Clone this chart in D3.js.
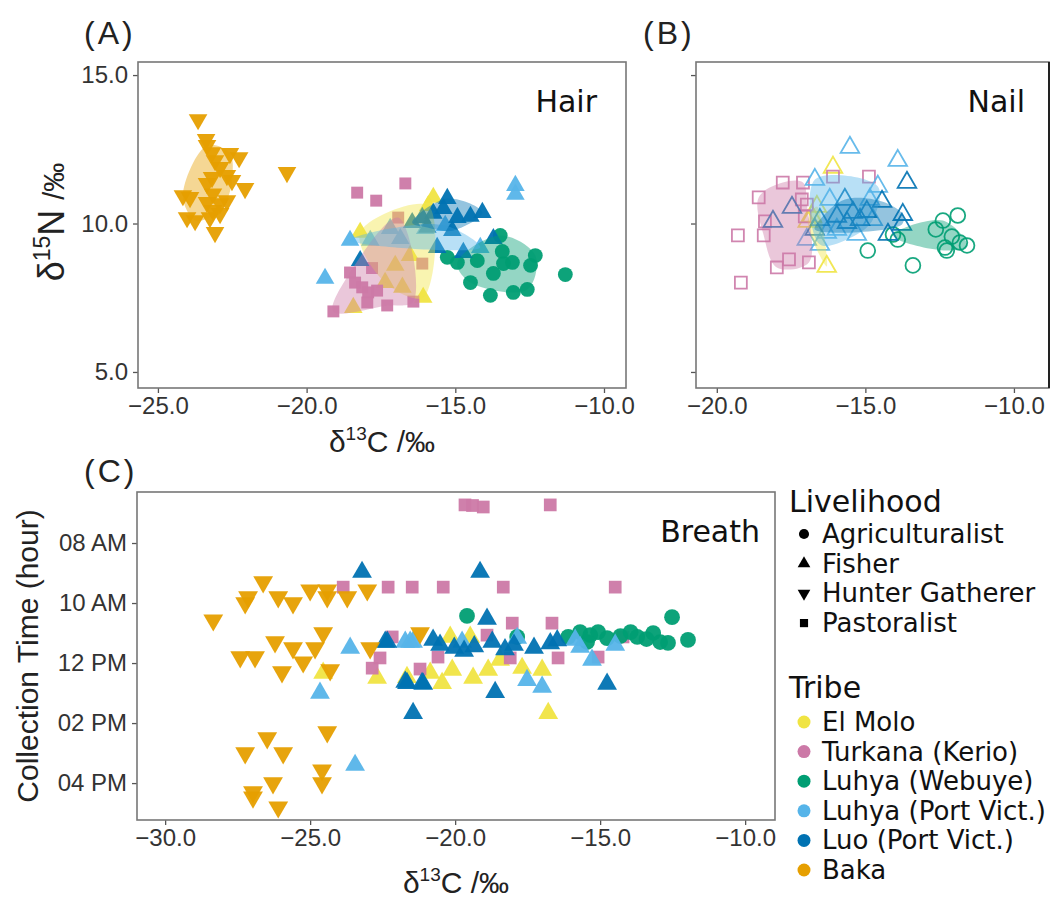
<html lang="en">
<head>
<meta charset="UTF-8">
<title>Isotope scatter</title>
<script src="https://d3js.org/d3.v7.min.js"></script>
<style>
  body { margin: 0; background: #fff; }
  .tick text { font-family: "Liberation Sans", Arial, sans-serif; font-size: 24px; fill: #333; }
  .tick line { stroke: #555; stroke-width: 1.3; }
  .frame { fill: none; stroke: #777; stroke-width: 1.6; }
  .lab { font-family: "Liberation Sans", Arial, sans-serif; fill: #222; }
  .tag { font-family: "DejaVu Sans", Verdana, sans-serif; fill: #111; }
</style>
</head>
<body>
<div id="chart"></div>
<script>
// tribes, colours and livelihood
const tribes = ["El Molo", "Turkana (Kerio)", "Luhya (Webuye)", "Luhya (Port Vict.)", "Luo (Port Vict.)", "Baka"];
const tribeColors = ["#F0E442", "#CC79A7", "#009E73", "#56B4E9", "#0072B2", "#E69F00"];
const livelihoods = ["Agriculturalist", "Fisher", "Hunter Gatherer", "Pastoralist"];
const tribeLivelihood = ["Fisher", "Pastoralist", "Agriculturalist", "Fisher", "Fisher", "Hunter Gatherer"];

// (A) hair: [d13C, d15N]
const hairElMolo = [[-15.74,10.88],[-18.2,9.7],[-16.78,7.85],[-16.08,7.51],[-18.43,7.17],[-17.02,8.59],[-16.52,8.92],[-17.36,8.01],[-15.91,10.6]];
const hairTurkana = [[-16.68,11.35],[-18.3,11.04],[-17.66,10.77],[-16.92,10.2],[-18.54,8.35],[-18.37,8.01],[-18.13,7.85],[-17.93,7.68],[-17.63,7.74],[-17.96,7.34],[-17.29,7.24],[-16.41,7.37],[-19.1,7.04],[-16.11,8.65],[-17.8,8.5]];
const hairWebuye = [[-13.49,9.6],[-15.27,8.86],[-13.42,9.06],[-12.31,8.92],[-13.38,8.65],[-13.08,8.69],[-13.72,8.32],[-12.47,8.59],[-14.49,8.01],[-13.82,7.58],[-13.05,7.68],[-12.58,7.78],[-11.3,8.28],[-14.93,8.69],[-14.26,8.75]];
const hairLuhyaPV = [[-19.38,8.15],[-18.54,9.43],[-12.98,11.28],[-12.98,10.98],[-14.16,9.19],[-16.85,9.49],[-16.01,9.83],[-15.34,9.93],[-17.19,9.83],[-17.86,9.43]];
const hairLuo = [[-15.27,10.84],[-14.09,10.37],[-13.72,9.49],[-14.73,9.02],[-15.61,9.19],[-18.2,8.75],[-15.74,10.34],[-15.4,10.5],[-14.93,10.2],[-14.49,10.24],[-16.11,10.2],[-15.94,9.87],[-16.45,10.03],[-15.1,9.76]];
const hairBaka = [[-23.65,13.5],[-23.38,12.83],[-23.35,12.63],[-23.18,12.39],[-22.58,12.36],[-22.27,12.22],[-23.08,12.12],[-22.91,11.89],[-22.68,11.62],[-23.18,11.55],[-23.35,11.35],[-22.51,11.45],[-22.07,11.18],[-24.16,10.94],[-23.92,10.88],[-23.15,11.0],[-23.35,10.71],[-22.91,10.67],[-22.68,10.77],[-23.15,10.44],[-24.02,10.2],[-23.75,10.1],[-23.25,10.2],[-22.91,10.34],[-23.08,9.7],[-20.66,11.72]];

// (B) nail: [d13C, d15N]
const nailElMolo = [[-16.09,11.89],[-16.3,8.55],[-16.8,10.24],[-16.63,10.57],[-16.94,10.07]];
const nailTurkana = [[-19.29,9.6],[-19.19,8.01],[-18.59,10.88],[-18.38,10.07],[-18.42,9.6],[-17.98,8.52],[-17.57,8.79],[-17.78,11.38],[-17.1,11.38],[-16.9,8.69],[-17.14,10.81],[-16.97,10.64],[-16.09,11.58],[-14.88,11.58],[-17.04,10.24]];
const nailWebuye = [[-14.92,9.09],[-13.91,9.46],[-13.4,8.59],[-14.07,9.63],[-12.63,9.8],[-12.39,10.1],[-11.89,10.27],[-12.09,9.56],[-12.32,9.19],[-12.26,9.09],[-11.82,9.36],[-11.58,9.26]];
const nailLuhyaPV = [[-15.52,12.56],[-13.91,12.12],[-16.7,11.48],[-14.58,11.25],[-15.29,9.63],[-16.97,9.46],[-16.53,9.29],[-16.2,10.81],[-14.85,10.81],[-14.75,10.13],[-15.96,9.8],[-16.3,9.7]];
const nailLuo = [[-18.11,10.07],[-17.47,10.54],[-13.6,11.38],[-14.44,10.74],[-13.74,10.3],[-13.77,9.97],[-14.24,9.63],[-15.69,10.81],[-15.42,10.37],[-15.96,10.24],[-15.18,10.13],[-16.53,10.13],[-14.95,10.4],[-16.7,9.8],[-15.62,10.03]];
const nailBaka = [];

// (C) breath: [d13C, collection hour]
const breathElMolo = [[-22.69,12.5],[-20.86,12.33],[-20.45,12.67],[-20.1,12.23],[-19.38,12.5],[-18.86,12.23],[-17.69,12.17],[-17.0,12.23],[-16.79,13.67],[-18.45,11.9],[-21.66,12.47],[-24.55,12.33],[-20.17,11.13],[-19.48,11.13]];
const breathTurkana = [[-23.86,9.47],[-22.31,9.47],[-21.48,9.47],[-20.41,9.47],[-19.66,6.73],[-19.4,6.75],[-19.03,6.8],[-16.72,6.73],[-18.34,9.47],[-14.48,9.47],[-18.03,10.67],[-16.66,10.67],[-14.21,11.13],[-15.07,11.8],[-16.45,11.83],[-21.21,12.2],[-22.86,12.17],[-22.59,11.83],[-22.17,11.13],[-20.59,11.8],[-18.9,11.07],[-18.1,11.83]];
const breathWebuye = [[-19.59,10.43],[-12.52,10.47],[-11.97,11.23],[-13.72,11.13],[-13.17,11.0],[-12.93,11.3],[-12.66,11.33],[-16.1,11.13],[-15.69,10.97],[-15.34,11.07],[-15.07,10.97],[-14.76,11.17],[-15.45,11.3],[-17.86,11.13],[-14.3,11.1],[-13.95,10.97],[-13.4,11.2]];
const breathLuhyaPV = [[-23.62,11.5],[-24.66,13.0],[-23.45,15.4],[-21.72,11.3],[-21.45,11.3],[-21.55,11.3],[-15.28,11.9],[-14.48,11.4],[-17.52,12.57],[-17.0,12.8],[-15.69,11.47],[-19.76,11.3],[-17.86,11.17],[-15.86,11.23]];
const breathLuo = [[-23.21,8.97],[-19.14,8.97],[-18.9,10.53],[-21.66,12.67],[-21.1,12.7],[-18.62,12.97],[-14.76,12.7],[-21.45,13.67],[-22.41,11.3],[-20.52,11.4],[-20.03,11.5],[-19.69,11.6],[-19.34,11.45],[-18.72,11.3],[-18.28,11.55],[-17.97,11.4],[-17.28,11.5],[-16.72,11.35],[-16.48,11.25],[-22.34,11.3],[-21.72,12.63],[-21.14,12.67],[-20.76,11.23]];
const breathBaka = [[-28.34,10.57],[-27.24,10.0],[-27.14,9.8],[-26.62,9.3],[-26.1,9.8],[-25.59,10.0],[-25.0,9.57],[-24.41,9.57],[-24.41,9.8],[-23.72,9.8],[-23.03,9.57],[-27.41,11.8],[-26.9,11.8],[-26.21,11.3],[-25.59,11.5],[-25.97,12.3],[-25.24,11.97],[-24.83,11.5],[-24.55,11.0],[-24.31,12.23],[-27.24,15.0],[-26.48,14.5],[-25.93,15.0],[-24.41,14.3],[-26.97,16.3],[-26.97,16.47],[-26.28,16.0],[-26.1,16.8],[-24.59,15.57],[-24.59,16.0],[-22.93,11.5],[-21.21,11.0]];

const hairSets = [hairElMolo, hairTurkana, hairWebuye, hairLuhyaPV, hairLuo, hairBaka];
const nailSets = [nailElMolo, nailTurkana, nailWebuye, nailLuhyaPV, nailLuo, nailBaka];
const breathSets = [breathElMolo, breathTurkana, breathWebuye, breathLuhyaPV, breathLuo, breathBaka];

const cTicksHair = [-25, -20, -15, -10];
const cTicksNail = [-20, -15, -10];
const cTicksBreath = [-30, -25, -20, -15, -10];
const nTicks = [5, 10, 15];
const hourTicks = [8, 10, 12, 14, 16];
const hourLabels = ["08 AM", "10 AM", "12 PM", "02 PM", "04 PM"];

const svg = d3.select("#chart").append("svg").attr("width", 1060).attr("height", 899);

const fmt = d3.format(".1f");

function symbolFor(liv, size) {
  if (liv === "Agriculturalist") return d3.symbol(d3.symbolCircle, size * 1.15)();
  if (liv === "Pastoralist") return d3.symbol(d3.symbolSquare, size * 0.95)();
  return d3.symbol(d3.symbolTriangle, size)();
}

function drawPoints(g, x, y, sets, open, size) {
  sets.forEach((pts, i) => {
    const liv = tribeLivelihood[i];
    const rot = liv === "Hunter Gatherer" ? 180 : 0;
    g.append("g").selectAll("path").data(pts).enter().append("path")
      .attr("d", symbolFor(liv, size))
      .attr("transform", d => `translate(${x(d[0])},${y(d[1])}) rotate(${rot})`)
      .attr("fill", open ? "none" : tribeColors[i])
      .attr("stroke", open ? tribeColors[i] : "none")
      .attr("stroke-width", open ? 1.8 : 0)
      .attr("opacity", open ? 0.9 : 0.95);
  });
}

// smoothed hull around the central part of each group
function drawHulls(g, x, y, sets) {
  sets.forEach((pts, i) => {
    if (pts.length < 5) return;
    const mx = d3.median(pts, d => d[0]), my = d3.median(pts, d => d[1]);
    const sx = d3.deviation(pts, d => d[0]) || 1, sy = d3.deviation(pts, d => d[1]) || 1;
    const core = pts.map(d => ({ d, r: Math.hypot((d[0] - mx) / sx, (d[1] - my) / sy) }))
      .sort((a, b) => a.r - b.r)
      .slice(0, Math.ceil(pts.length * 0.7))
      .map(o => [x(o.d[0]), y(o.d[1])]);
    const hull = d3.polygonHull(core);
    if (!hull) return;
    g.append("path")
      .attr("d", d3.line().curve(d3.curveCatmullRomClosed.alpha(0.5))(hull))
      .attr("fill", tribeColors[i])
      .attr("opacity", 0.42);
  });
}

// box: [left, top, right, bottom] in pixels
function panel(opts) {
  const [L, T, R, Bm] = opts.box;
  const g = svg.append("g");
  const x = d3.scaleLinear().domain(opts.xd).range([L, R]);
  const y = d3.scaleLinear().domain(opts.yd).range(opts.flip ? [T, Bm] : [Bm, T]);
  const ax = g.append("g").attr("transform", `translate(0,${Bm})`)
    .call(d3.axisBottom(x).tickValues(opts.xt).tickFormat(fmt).tickSize(5).tickSizeOuter(0).tickPadding(4));
  ax.select(".domain").remove();
  const ay = g.append("g").attr("transform", `translate(${L},0)`)
    .call(d3.axisLeft(y).tickValues(opts.yt).tickFormat(opts.yf).tickSize(5).tickSizeOuter(0).tickPadding(5));
  ay.select(".domain").remove();
  g.append("rect").attr("class", "frame")
    .attr("x", L).attr("y", T).attr("width", R - L).attr("height", Bm - T);
  const plot = g.append("g");
  drawPoints(plot, x, y, opts.sets, opts.open, opts.size);
  if (opts.hull) drawHulls(plot, x, y, opts.sets);
  g.append("text").attr("class", "tag")
    .attr("x", opts.tagX).attr("y", T + 50)
    .attr("text-anchor", "end").style("font-size", "30px").text(opts.tag);
  g.append("text").attr("class", "lab")
    .attr("x", opts.letterX).attr("y", opts.letterY)
    .style("font-size", "32px").style("letter-spacing", "3px").text(opts.letter);
  return { g, x, y };
}

panel({ box: [138, 62, 626, 388], xd: [-25.67, -9.26], yd: [4.46, 15.44],
  xt: cTicksHair, yt: nTicks, yf: fmt, sets: hairSets, open: false, size: 150, hull: true,
  tag: "Hair", tagX: 597, letter: "(A)", letterX: 84, letterY: 44 });

const B = panel({ box: [696, 62, 1049, 388], xd: [-20.7, -8.82], yd: [4.46, 15.44],
  xt: cTicksNail, yt: nTicks, yf: () => "", sets: nailSets, open: true, size: 150, hull: true,
  tag: "Nail", tagX: 1025, letter: "(B)", letterX: 643, letterY: 44 });
B.g.append("line").attr("x1", 1049).attr("x2", 1049).attr("y1", 62).attr("y2", 388)
  .attr("stroke", "#222").attr("stroke-width", 2);

// hours run downwards: early hours sit on top
panel({ box: [137, 492, 775, 820], xd: [-30.97, -8.97], yd: [6.3, 17.23], flip: true,
  xt: cTicksBreath, yt: hourTicks, yf: (d, i) => hourLabels[i], sets: breathSets, open: false, size: 170, hull: false,
  tag: "Breath", tagX: 760, letter: "(C)", letterX: 84, letterY: 482 });

// axis titles
function isoTitle(g, x, y, el, sup, rot, fs) {
  const t = g.append("text").attr("class", "lab")
    .attr("transform", `translate(${x},${y})` + (rot ? " rotate(-90)" : ""))
    .attr("text-anchor", "middle").style("font-size", fs + "px");
  t.append("tspan").text("δ");
  t.append("tspan").attr("dy", -fs * 0.4).style("font-size", Math.round(fs * 0.63) + "px").text(sup);
  t.append("tspan").attr("dy", fs * 0.4).text(el + " ");
  t.append("tspan").style("font-size", Math.round(fs * (rot ? 0.8 : 1)) + "px").text("/‰");
}
isoTitle(svg, 382, 452, "C", "13", false, 30);
isoTitle(svg, 456, 893, "C", "13", false, 30);
isoTitle(svg, 64, 222, "N", "15", true, 36);
svg.append("text").attr("class", "lab")
  .attr("transform", "translate(38,656) rotate(-90)")
  .attr("text-anchor", "middle").style("font-size", "30px").text("Collection Time (hour)");

// legend
const leg = svg.append("g");
leg.append("text").attr("class", "tag").attr("x", 789).attr("y", 512).style("font-size", "30px").text("Livelihood");
livelihoods.forEach((l, i) => {
  const yy = 534 + i * 29.7;
  leg.append("path").attr("d", symbolFor(l, 70))
    .attr("transform", `translate(804,${yy}) rotate(${l === "Hunter Gatherer" ? 180 : 0})`).attr("fill", "#000");
  leg.append("text").attr("class", "tag").attr("x", 822).attr("y", yy + 9).style("font-size", "26px").text(l);
});
leg.append("text").attr("class", "tag").attr("x", 789).attr("y", 698).style("font-size", "30px").text("Tribe");
tribes.forEach((t, i) => {
  const yy = 722 + i * 29.6;
  leg.append("circle").attr("cx", 804).attr("cy", yy).attr("r", 6.5).attr("fill", tribeColors[i]);
  leg.append("text").attr("class", "tag").attr("x", 822).attr("y", yy + 9).style("font-size", "26px").text(t);
});
</script>
</body>
</html>
